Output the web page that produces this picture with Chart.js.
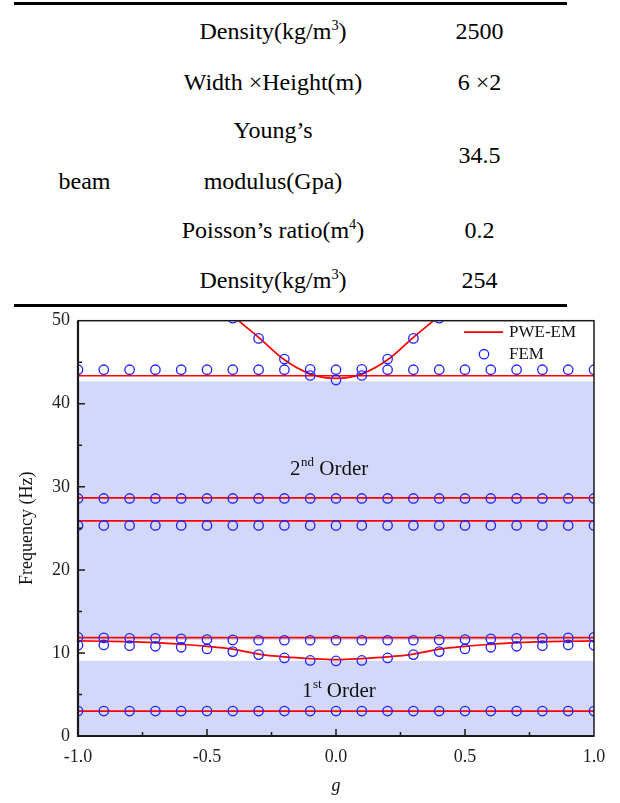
<!DOCTYPE html>
<html><head><meta charset="utf-8">
<script src="https://cdn.jsdelivr.net/npm/chart.js@4"></script>
<style>
html,body{margin:0;padding:0;background:#fff;width:620px;height:803px;overflow:hidden;}
body{position:relative;color:#000;}
.rule{position:absolute;left:14px;width:553px;height:3px;background:#000;}
.t{position:absolute;font-family:"Liberation Serif","Times New Roman",Times,serif;font-size:24px;line-height:24px;white-space:nowrap;text-align:center;width:300px;color:#000;}
.t sup{font-size:60%;line-height:0;vertical-align:0.6em;}
#c{position:absolute;left:0;top:300px;}
</style></head><body>
<div class="rule" style="top:2px"></div>
<div class="rule" style="top:304px"></div>
<div id="table"></div>
<canvas id="c" width="620" height="503"></canvas>
<script>
// ---------- table content ----------
const tableGroup = "beam";
const tableLabels = ["Density(kg/m<sup>3</sup>)", "Width \u00d7Height(m)", "Young\u2019s", "modulus(Gpa)", "Poisson\u2019s ratio(m<sup>4</sup>)", "Density(kg/m<sup>3</sup>)"];
const tableValues = ["2500", "6 \u00d72", "34.5", "0.2", "254"];

// ---------- chart data ----------
const gVals = [-1.0,-0.9,-0.8,-0.7,-0.6,-0.5,-0.4,-0.3,-0.2,-0.1,0.0,0.1,0.2,0.3,0.4,0.5,0.6,0.7,0.8,0.9,1.0];
const fem1st   = [3.0,3.0,3.0,3.0,3.0,3.0,3.0,3.0,3.0,3.0,3.0,3.0,3.0,3.0,3.0,3.0,3.0,3.0,3.0,3.0,3.0];
const femLower = [10.92,10.96,10.88,10.80,10.68,10.48,10.16,9.80,9.40,9.10,9.04,9.10,9.40,9.80,10.16,10.48,10.68,10.80,10.88,10.96,10.92];
const femUpper = [11.89,11.81,11.77,11.77,11.69,11.61,11.57,11.53,11.53,11.53,11.53,11.53,11.53,11.53,11.57,11.61,11.69,11.77,11.77,11.81,11.89];
const fem25    = [25.35,25.35,25.35,25.35,25.35,25.35,25.35,25.35,25.35,25.35,25.35,25.35,25.35,25.35,25.35,25.35,25.35,25.35,25.35,25.35,25.35];
const fem28    = [28.6,28.6,28.6,28.6,28.6,28.6,28.6,28.6,28.6,28.6,28.6,28.6,28.6,28.6,28.6,28.6,28.6,28.6,28.6,28.6,28.6];
const fem44    = [44.1,44.1,44.1,44.1,44.1,44.1,44.1,44.1,44.1,44.15,44.1,44.15,44.1,44.1,44.1,44.1,44.1,44.1,44.1,44.1,44.1];
const femCurveG = [-0.4,-0.3,-0.2,-0.1,0.0,0.1,0.2,0.3,0.4];
const femCurve  = [50.3,47.87,45.38,43.4,42.85,43.4,45.38,47.87,50.3];

const pweFlatG = [-1.0, 1.0];
const pwe3  = [3.0, 3.0];
const pwe11 = [11.85, 11.85];
const pwe25 = [25.9, 25.9];
const pwe28 = [28.67, 28.67];
const pwe43 = [43.37, 43.37];
const pweLower = [11.45,11.41,11.37,11.24,11.04,10.80,10.46,9.86,9.52,9.32,9.20,9.32,9.52,9.86,10.46,10.80,11.04,11.24,11.37,11.41,11.45];
const pweUpG = [-0.5,-0.4,-0.3,-0.2,-0.1,0.0,0.1,0.2,0.3,0.4,0.5];
const pweUp  = [53.5,50.6,48.0,45.3,43.6,43.05,43.6,45.3,48.0,50.6,53.5];

const bandGaps = [[0, 9.05], [11.55, 42.7]];
const xTicks = [-1.0, -0.5, 0.0, 0.5, 1.0];
const yTicks = [0, 10, 20, 30, 40, 50];

// ---------- table layout ----------
const SERIF = '"Liberation Serif", "Times New Roman", Times, serif';
(function(){
  const host = document.getElementById('table');
  const labelBase = [39.5, 90, 138, 189, 238.3, 288.3];
  const valueBase = [39.5, 90, 163.3, 238.3, 288.3];
  const asc = 20.1;
  function put(html, cx, base){
    const d = document.createElement('div');
    d.className = 't';
    d.innerHTML = html;
    d.style.fontFamily = SERIF;
    d.style.left = (cx - 150) + 'px';
    d.style.top = (base - asc) + 'px';
    host.appendChild(d);
  }
  tableLabels.forEach((s,i)=>put(s, 273, labelBase[i]));
  tableValues.forEach((s,i)=>put(s, 479.5, valueBase[i]));
  put(tableGroup, 84.5, 189);
})();

// ---------- chart ----------
const FONT = SERIF;
Chart.defaults.font.family = FONT;
Chart.defaults.color = '#222';

const pts = (xs, ys) => xs.map((x,i)=>({x:x, y:ys[i]}));
const RED = 'rgb(255,0,0)';
const BLUE = 'rgb(30,30,255)';
const femStyle = {showLine:false, pointRadius:4.7, pointHoverRadius:4.7, pointStyle:'circle',
  backgroundColor:'rgba(0,0,0,0)', borderColor:BLUE, pointBorderWidth:1.3, borderWidth:1.3, clip:0};
const pweStyle = {showLine:true, pointRadius:0, pointHoverRadius:0, borderColor:RED, borderWidth:1.7,
  backgroundColor:RED, fill:false, clip:0};

const datasets = [
  Object.assign({label:'FEM', data:pts(gVals, fem1st)}, femStyle),
  Object.assign({label:'FEM', data:pts(gVals, femLower)}, femStyle),
  Object.assign({label:'FEM', data:pts(gVals, femUpper)}, femStyle),
  Object.assign({label:'FEM', data:pts(gVals, fem25)}, femStyle),
  Object.assign({label:'FEM', data:pts(gVals, fem28)}, femStyle),
  Object.assign({label:'FEM', data:pts(gVals, fem44)}, femStyle),
  Object.assign({label:'FEM', data:pts(femCurveG, femCurve)}, femStyle),
  Object.assign({label:'PWE-EM', data:pts(pweFlatG, pwe3)}, pweStyle),
  Object.assign({label:'PWE-EM', data:pts(gVals, pweLower), cubicInterpolationMode:'monotone'}, pweStyle),
  Object.assign({label:'PWE-EM', data:pts(pweFlatG, pwe11)}, pweStyle),
  Object.assign({label:'PWE-EM', data:pts(pweFlatG, pwe25)}, pweStyle),
  Object.assign({label:'PWE-EM', data:pts(pweFlatG, pwe28)}, pweStyle),
  Object.assign({label:'PWE-EM', data:pts(pweFlatG, pwe43)}, pweStyle),
  Object.assign({label:'PWE-EM', data:pts(pweUpG, pweUp), cubicInterpolationMode:'monotone'}, pweStyle)
];

const bandsPlugin = {
  id:'bands',
  beforeDatasetsDraw(chart){
    const {ctx, chartArea:a, scales:{y}} = chart;
    ctx.save();
    ctx.fillStyle = 'rgb(211,216,250)';
    bandGaps.forEach(([lo,hi])=>{
      const y1 = y.getPixelForValue(hi), y0 = y.getPixelForValue(lo);
      ctx.fillRect(a.left, y1, a.right - a.left, y0 - y1);
    });
    ctx.restore();
  }
};

function supText(ctx, x, y, main, sup, rest){
  ctx.font = '21px ' + FONT;
  ctx.fillText(main, x, y);
  let w = ctx.measureText(main).width;
  ctx.font = '13px ' + FONT;
  ctx.fillText(sup, x + w + 0.5, y - 9);
  w += ctx.measureText(sup).width + 0.5;
  ctx.font = '21px ' + FONT;
  ctx.fillText(rest, x + w, y);
}

const decorPlugin = {
  id:'decor',
  afterDatasetsDraw(chart){
    const {ctx, chartArea:a, scales:{x, y}} = chart;
    ctx.save();
    ctx.fillStyle = '#111';
    ctx.textAlign = 'left';
    ctx.textBaseline = 'alphabetic';
    supText(ctx, x.getPixelForValue(-0.178), y.getPixelForValue(31.42), '2', 'nd', ' Order');
    supText(ctx, x.getPixelForValue(-0.132), y.getPixelForValue(4.66), '1', 'st', ' Order');
    ctx.strokeStyle = '#1a1a1a';
    ctx.lineWidth = 1.5;
    ctx.strokeRect(a.left, a.top, a.right - a.left, a.bottom - a.top);
    ctx.lineWidth = 2.2;
    ctx.beginPath();
    ctx.moveTo(a.left, a.top); ctx.lineTo(a.left, a.bottom); ctx.lineTo(a.right, a.bottom);
    ctx.stroke();
    ctx.lineWidth = 1.5;
    ctx.beginPath();
    for (let v = 5; v < 50; v += 5){
      const p = y.getPixelForValue(v);
      const len = (v % 10 === 0) ? 7 : 4;
      ctx.moveTo(a.left, p); ctx.lineTo(a.left + len, p);
    }
    [-0.75,-0.5,-0.25,0,0.25,0.5,0.75].forEach(v=>{
      const p = x.getPixelForValue(v);
      const len = (Math.abs(v*2 - Math.round(v*2)) < 1e-9) ? 7 : 4;
      ctx.moveTo(p, a.bottom); ctx.lineTo(p, a.bottom - len);
    });
    ctx.stroke();
    const ly1 = a.top + 11.5, ly2 = a.top + 33.5;
    ctx.strokeStyle = RED; ctx.lineWidth = 1.7;
    ctx.beginPath(); ctx.moveTo(a.right - 130, ly1); ctx.lineTo(a.right - 91, ly1); ctx.stroke();
    ctx.strokeStyle = BLUE; ctx.lineWidth = 1.3;
    ctx.beginPath(); ctx.arc(a.right - 110, ly2, 4.7, 0, Math.PI*2); ctx.stroke();
    ctx.fillStyle = '#111';
    ctx.font = '17px ' + FONT;
    ctx.textBaseline = 'middle';
    ctx.fillText('PWE-EM', a.right - 85, ly1);
    ctx.fillText('FEM', a.right - 85, ly2);
    ctx.restore();
  }
};

new Chart(document.getElementById('c'), {
  type:'scatter',
  data:{datasets:datasets},
  options:{
    responsive:false,
    animation:false,
    events:[],
    layout:{padding:{top:20.7, right:26, left:0, bottom:0}},
    plugins:{legend:{display:false}, tooltip:{enabled:false}},
    scales:{
      x:{
        type:'linear', min:-1, max:1,
        afterBuildTicks(s){ s.ticks = xTicks.map(v=>({value:v})); },
        afterFit(s){ s.height = 67; },
        grid:{display:false, drawTicks:false},
        border:{display:false},
        ticks:{padding:10, font:{size:18}, color:'#222', callback:(v)=>Number(v).toFixed(1), maxRotation:0, autoSkip:false},
        title:{display:true, text:'g', font:{size:18, style:'italic'}, color:'#111', padding:{top:0, bottom:6}}
      },
      y:{
        type:'linear', min:0, max:50,
        afterBuildTicks(s){ s.ticks = yTicks.map(v=>({value:v})); },
        afterFit(s){ s.width = 78; },
        grid:{display:false, drawTicks:false},
        border:{display:false},
        ticks:{padding:8, font:{size:18}, color:'#222', autoSkip:false},
        title:{display:true, text:'Frequency (Hz)', font:{size:18}, color:'#111', padding:{top:16, bottom:0}}
      }
    }
  },
  plugins:[bandsPlugin, decorPlugin]
});
</script>
</body></html>
